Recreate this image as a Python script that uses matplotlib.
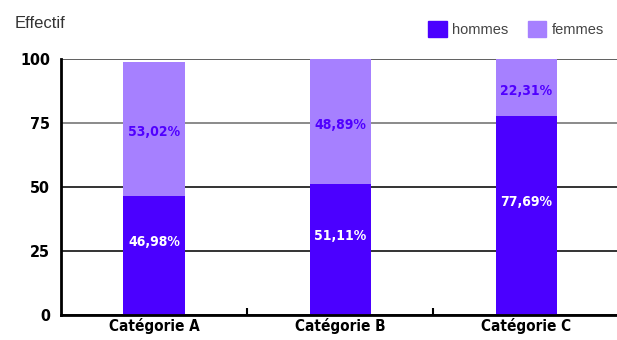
import matplotlib
matplotlib.use('Agg')
import matplotlib.pyplot as plt
from matplotlib.patches import Patch

categories = ['Catégorie A', 'Catégorie B', 'Catégorie C']
totals = [99.0, 100.0, 100.0]
pct_hommes = [46.98, 51.11, 77.69]
pct_femmes = [53.02, 48.89, 22.31]
yticks = [0, 25, 50, 75, 100]

c_h = '#4b00ff'
c_f = '#a680ff'

plt.rcParams['font.family'] = ['DejaVu Sans']
plt.rcParams['font.stretch'] = 'condensed'

hommes = [t * p / 100 for t, p in zip(totals, pct_hommes)]
femmes = [t * p / 100 for t, p in zip(totals, pct_femmes)]


def fmt(p):
    return ('%.2f%%' % p).replace('.', ',')


fig = plt.figure(figsize=(6.17, 3.40), dpi=100)
ax = fig.add_axes([0.099, 0.074, 0.905, 0.752])

x = list(range(len(categories)))
ax.bar(x, hommes, width=0.33, color=c_h, zorder=3)
ax.bar(x, femmes, width=0.33, bottom=hommes, color=c_f, zorder=3)

for i in x:
    ax.annotate(fmt(pct_hommes[i]), (i, hommes[i] / 2),
                xytext=(0, 9.5), textcoords='offset points', ha='center', va='center',
                color='white', fontsize=10, fontweight='bold', zorder=4)
    ax.annotate(fmt(pct_femmes[i]), (i, hommes[i] + femmes[i] / 2),
                xytext=(0, -2.5), textcoords='offset points', ha='center', va='center',
                color='#5000ff', fontsize=10, fontweight='bold', zorder=4)

ax.set_xlim(-0.5, 2.5)
ax.set_ylim(0, 100)
ax.set_yticks(yticks)
ax.set_yticklabels([str(t) for t in yticks], fontsize=11.5, fontweight='bold')
ax.set_xticks(x)
ax.set_xticklabels(categories, fontsize=11, fontweight='bold')
ax.tick_params(axis='x', length=0, pad=2)
ax.tick_params(axis='y', length=0, pad=8)
ax.set_xticks([0.5, 1.5], minor=True)
ax.tick_params(axis='x', which='minor', direction='in', length=5, width=1.5, color='black')

ax.grid(axis='y', linewidth=1.2, zorder=1)
for gl, col in zip(ax.get_ygridlines(), ['black', '#111111', '#111111', '#777777', '#444444']):
    gl.set_color(col)

for s in ['top', 'right']:
    ax.spines[s].set_visible(False)
ax.spines['left'].set_linewidth(2)
ax.spines['bottom'].set_linewidth(2)
ax.spines['bottom'].set_zorder(5)

fig.text(0.024, 0.932, 'Effectif', fontsize=12, color='#333333',
         family=['Liberation Sans', 'DejaVu Sans'], stretch='normal', va='center')

handles = [Patch(color=c_h, label='hommes'), Patch(color=c_f, label='femmes')]
fig.legend(handles=handles, loc='center right', bbox_to_anchor=(1.0, 0.915),
           ncol=2, frameon=False, handlelength=1.25, handleheight=1.25,
           handletextpad=0.4, columnspacing=1.3,
           prop={'family': ['Liberation Sans', 'DejaVu Sans'], 'size': 10.5,
                 'stretch': 'normal'},
           labelcolor='#444444')

plt.savefig('out.png', dpi=100)
